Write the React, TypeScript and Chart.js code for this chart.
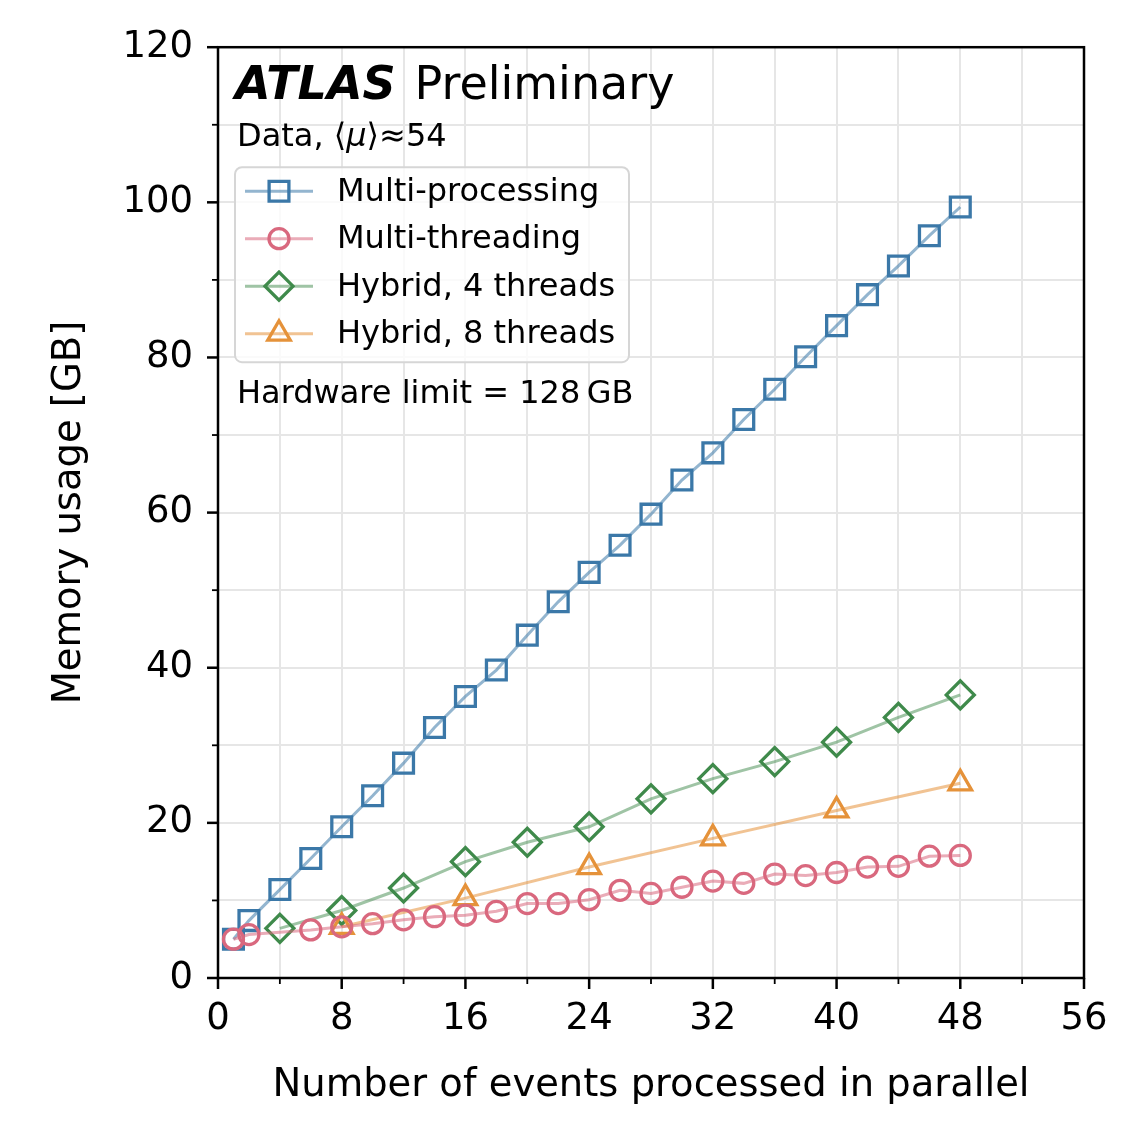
import { useEffect, useRef } from 'react';
import Chart from 'chart.js/auto';

// events processed in parallel (x) and memory usage in GB (y)
const mpEvents = [1, 2, 4, 6, 8, 10, 12, 14, 16, 18, 20, 22, 24, 26, 28, 30, 32, 34, 36, 38, 40, 42, 44, 46, 48];
const mpMemory = [5.0, 7.4, 11.4, 15.4, 19.5, 23.5, 27.7, 32.3, 36.3, 39.7, 44.2, 48.5, 52.3, 55.8, 59.8, 64.2, 67.7, 72.0, 75.9, 80.1, 84.1, 88.1, 91.8, 95.7, 99.4];

const mtEvents = [1, 2, 6, 8, 10, 12, 14, 16, 18, 20, 22, 24, 26, 28, 30, 32, 34, 36, 38, 40, 42, 44, 46, 48];
const mtMemory = [5.0, 5.6, 6.2, 6.6, 7.0, 7.5, 7.9, 8.1, 8.6, 9.6, 9.6, 10.1, 11.3, 10.9, 11.7, 12.5, 12.2, 13.4, 13.2, 13.6, 14.3, 14.4, 15.7, 15.8];

const hy4Events = [4, 8, 12, 16, 20, 24, 28, 32, 36, 40, 44, 48];
const hy4Memory = [6.4, 8.7, 11.6, 15.0, 17.5, 19.5, 23.1, 25.7, 27.9, 30.4, 33.6, 36.5];

const hy8Events = [8, 16, 24, 32, 40, 48];
const hy8Memory = [6.6, 10.3, 14.3, 18.0, 21.6, 25.1];

const seriesNames = ['Multi-processing', 'Multi-threading', 'Hybrid, 4 threads', 'Hybrid, 8 threads'];
const seriesColors = ['#3b78a8', '#d9687e', '#3f8a4b', '#e5923a'];
const seriesLines = ['rgba(59,120,168,0.55)', 'rgba(217,104,126,0.55)', 'rgba(63,138,75,0.5)', 'rgba(229,146,58,0.55)'];
const seriesMarkers = ['rect', 'circle', 'rectRot', 'triangle'];
const markerRadius = [14, 10, 14, 13];

const FONT = '"DejaVu Sans", "Liberation Sans", sans-serif';

const toPoints = (xs: number[], ys: number[]) => xs.map((x, i) => ({ x, y: ys[i] }));

// draws a hollow marker the same way the chart does
function drawMarker(ctx: CanvasRenderingContext2D, style: string, x: number, y: number, r: number) {
  ctx.beginPath();
  if (style === 'rect') {
    const s = Math.SQRT1_2 * r;
    ctx.rect(x - s, y - s, 2 * s, 2 * s);
  } else if (style === 'circle') {
    ctx.arc(x, y, r, 0, Math.PI * 2);
  } else if (style === 'rectRot') {
    ctx.moveTo(x - r, y);
    ctx.lineTo(x, y - r);
    ctx.lineTo(x + r, y);
    ctx.lineTo(x, y + r);
    ctx.closePath();
  } else {
    ctx.moveTo(x, y - r);
    ctx.lineTo(x + Math.sin(2 * Math.PI / 3) * r, y - Math.cos(2 * Math.PI / 3) * r);
    ctx.lineTo(x + Math.sin(4 * Math.PI / 3) * r, y - Math.cos(4 * Math.PI / 3) * r);
    ctx.closePath();
  }
  ctx.stroke();
}

const atlasDecor = {
  id: 'atlasDecor',
  afterDraw(chart: any) {
    const { ctx, chartArea: a, scales } = chart;
    ctx.save();

    // frame
    ctx.strokeStyle = '#000';
    ctx.lineWidth = 2.5;
    ctx.strokeRect(a.left, a.top, a.right - a.left, a.bottom - a.top);

    // major / minor tick marks (outward)
    ctx.lineCap = 'butt';
    for (let v = 0; v <= 56; v += 4) {
      const px = scales.x.getPixelForValue(v);
      const major = v % 8 === 0;
      ctx.lineWidth = major ? 2.5 : 1.8;
      ctx.beginPath();
      ctx.moveTo(px, a.bottom);
      ctx.lineTo(px, a.bottom + (major ? 11 : 6));
      ctx.stroke();
    }
    for (let v = 0; v <= 120; v += 10) {
      const py = scales.y.getPixelForValue(v);
      const major = v % 20 === 0;
      ctx.lineWidth = major ? 2.5 : 1.8;
      ctx.beginPath();
      ctx.moveTo(a.left, py);
      ctx.lineTo(a.left - (major ? 11 : 6), py);
      ctx.stroke();
    }

    // labels
    ctx.fillStyle = '#000';
    ctx.textBaseline = 'alphabetic';
    ctx.textAlign = 'left';
    const tx = a.left + 17;
    ctx.font = `italic bold 46px ${FONT}`;
    ctx.fillText('ATLAS', tx, a.top + 52);
    const atlasW = ctx.measureText('ATLAS').width;
    ctx.font = `46px ${FONT}`;
    ctx.fillText('Preliminary', tx + atlasW + 19, a.top + 52);

    ctx.font = `32px ${FONT}`;
    let cx = tx + 2;
    const dataY = a.top + 99;
    ctx.fillText('Data, \u27e8', cx, dataY);
    cx += ctx.measureText('Data, \u27e8').width;
    ctx.font = `italic 32px ${FONT}`;
    ctx.fillText('\u03bc', cx, dataY);
    cx += ctx.measureText('\u03bc').width;
    ctx.font = `32px ${FONT}`;
    ctx.fillText('\u27e9\u224854', cx, dataY);

    ctx.fillText('Hardware limit = 128\u2009GB', tx + 2, a.top + 356);

    // legend box
    const lx = a.left + 17, ly = a.top + 120, lw = 394, lh = 195;
    ctx.beginPath();
    ctx.roundRect(lx, ly, lw, lh, 7);
    ctx.fillStyle = 'rgba(255,255,255,0.8)';
    ctx.fill();
    ctx.strokeStyle = '#d6d6d6';
    ctx.lineWidth = 2;
    ctx.stroke();

    ctx.textBaseline = 'middle';
    seriesNames.forEach((name, i) => {
      const ry = ly + 24 + i * 47.5;
      ctx.strokeStyle = seriesLines[i];
      ctx.lineWidth = 3;
      ctx.beginPath();
      ctx.moveTo(lx + 10, ry);
      ctx.lineTo(lx + 78, ry);
      ctx.stroke();
      ctx.strokeStyle = seriesColors[i];
      ctx.lineWidth = 3.3;
      drawMarker(ctx, seriesMarkers[i], lx + 44, ry, markerRadius[i]);
      ctx.fillStyle = '#000';
      ctx.font = `32px ${FONT}`;
      ctx.fillText(name, lx + 102, ry + 1);
    });

    ctx.restore();
  },
};

const MemoryChart = () => {
  const canvasRef = useRef<HTMLCanvasElement>(null);

  useEffect(() => {
    document.body.style.margin = '0';
    if (!canvasRef.current) return;
    Chart.defaults.font.family = FONT;

    const sets = [
      toPoints(mpEvents, mpMemory),
      toPoints(mtEvents, mtMemory),
      toPoints(hy4Events, hy4Memory),
      toPoints(hy8Events, hy8Memory),
    ];
    const drawOrder = [3, 0, 2, 1];

    const chart = new Chart(canvasRef.current, {
      type: 'scatter',
      data: {
        datasets: sets.map((data, i) => ({
          label: seriesNames[i],
          data,
          showLine: true,
          order: drawOrder[i],
          borderColor: seriesLines[i],
          borderWidth: 3,
          pointStyle: seriesMarkers[i] as any,
          pointRadius: markerRadius[i],
          pointBorderColor: seriesColors[i],
          pointBackgroundColor: 'rgba(0,0,0,0)',
          pointBorderWidth: 3.3,
          pointHoverRadius: markerRadius[i],
        })),
      },
      plugins: [atlasDecor],
      options: {
        animation: false,
        responsive: true,
        maintainAspectRatio: false,
        events: [],
        layout: { padding: { top: 45, right: 62, left: 0, bottom: 0 } },
        plugins: {
          legend: { display: false },
          tooltip: { enabled: false },
        },
        scales: {
          x: {
            type: 'linear',
            min: 0,
            max: 56,
            afterFit: (s: any) => { s.height = 144; },
            border: { display: false },
            grid: { color: '#e6e6e6', lineWidth: 2, drawTicks: false },
            ticks: {
              stepSize: 4,
              autoSkip: false,
              maxRotation: 0,
              padding: 19,
              color: '#000',
              font: { size: 37 },
              callback: (v: any) => (Number(v) % 8 === 0 ? String(v) : ''),
            },
            title: {
              display: true,
              text: 'Number of events processed in parallel',
              color: '#000',
              font: { size: 38.5 },
              padding: { top: 0, bottom: 13 },
            },
          },
          y: {
            type: 'linear',
            min: 0,
            max: 120,
            afterFit: (s: any) => { s.width = 218; },
            border: { display: false },
            grid: { color: '#e6e6e6', lineWidth: 2, drawTicks: false },
            ticks: {
              stepSize: 10,
              autoSkip: false,
              padding: 25,
              color: '#000',
              font: { size: 37 },
              callback: (v: any) => (Number(v) % 20 === 0 ? String(v) : ''),
            },
            title: {
              display: true,
              text: 'Memory usage [GB]',
              color: '#000',
              font: { size: 38.5 },
              padding: { top: 47, bottom: 0 },
            },
          },
        },
      },
    });

    return () => {
      chart.destroy();
    };
  }, []);

  return (
    <div style={{ width: 1146, height: 1122, position: 'relative', background: '#fff' }}>
      <canvas ref={canvasRef}></canvas>
    </div>
  );
};

export default function App() {
  return <MemoryChart />;
}
